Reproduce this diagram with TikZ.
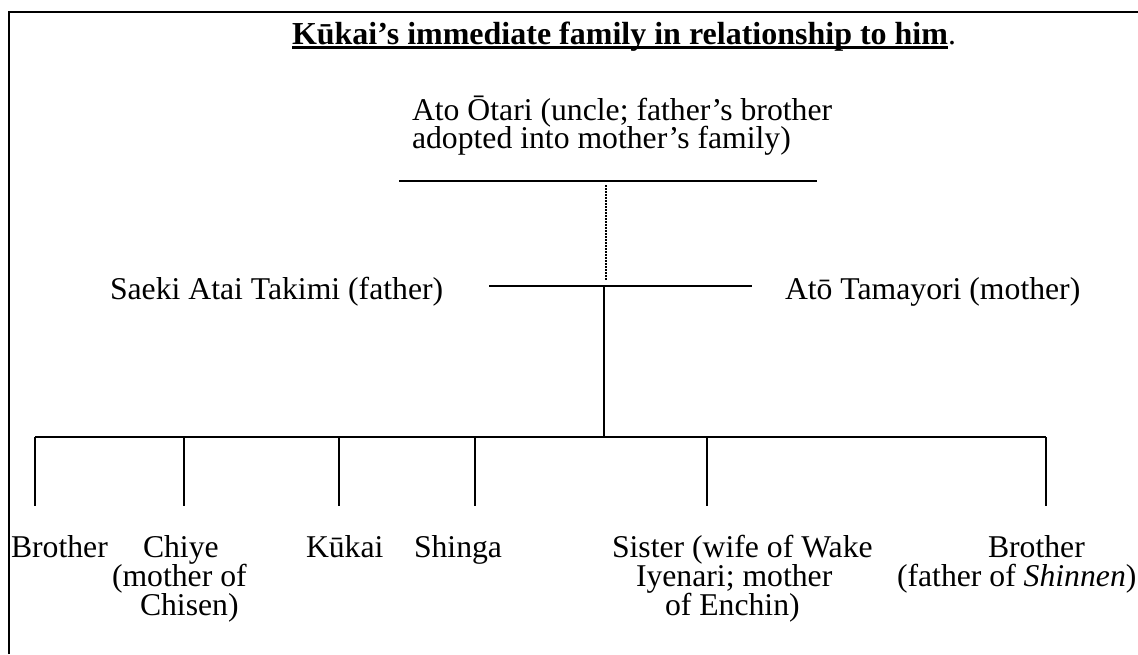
\documentclass[tikz,border=0pt]{standalone}
\usepackage{fontspec}
\setmainfont{Liberation Serif}
\usetikzlibrary{calc}
\newcommand\mylblfont{\fontsize{31.7}{29}\selectfont\lineskiplimit=-50pt\relax}
\newcommand\myuncfont{\fontsize{31.7}{28.3}\selectfont\lineskiplimit=-50pt\relax}
\begin{document}
\begin{tikzpicture}[x=1pt,y=-1pt,
  lbl/.style={inner sep=0pt, outer sep=0pt, anchor=base west, align=left,
    font=\mylblfont},
  ttl/.style={inner sep=0pt, outer sep=0pt, anchor=base west,
    font=\fontsize{32}{36}\selectfont\bfseries},
  tree/.style={line width=2pt},
  dots/.style={line width=2pt, dash pattern=on 1.5pt off 1.5pt}]
\useasboundingbox (0,0) rectangle (1138,654);
% frame
\draw[line width=2pt] (9,654) -- (9,12) -- (1138,12);
% title
\node[ttl] (title) at (292,44) {Kūkai’s immediate family in relationship to him};
\node[lbl] (period) at (title.base east) {.};
\draw[line width=3pt] ($(title.base west)+(0,3.5)$) -- ($(title.base east)+(0,3.5)$);
% people (multi-line nodes are placed by their last baseline)
\node[lbl, font=\myuncfont] (uncle) at (412,148.5)
  {Ato Ōtari (uncle; father’s brother\\adopted into mother’s family)};
\node[lbl] (father) at (110,299) {Saeki Atai Takimi (father)};
\node[lbl] (mother) at (785,299) {Atō Tamayori (mother)};
\node[lbl] (c1) at (11,557) {Brother};
\node[lbl] (c2) at (112,615) {\hspace*{31pt}Chiye\\(mother of\\\hspace*{28pt}Chisen)};
\node[lbl] (c3) at (306,557) {Kūkai};
\node[lbl] (c4) at (414,557) {Shinga};
\node[lbl] (c5) at (612,615) {Sister (wife of Wake\\\hspace*{24pt}Iyenari; mother\\\hspace*{53pt}of Enchin)};
\node[lbl] (c6) at (897,586) {\hspace*{91pt}Brother\\(father of \textit{Shinnen})};
% junction points
\coordinate (ul) at (399,181);
\coordinate (ur) at (817,181);
\coordinate (ud1) at (606,185);
\coordinate (ud2) at (606,281);
\coordinate (ml) at (489,286);
\coordinate (mr) at (752,286);
\coordinate (mc) at (604,286);
\coordinate (bc) at (604,437);
\coordinate (bl) at (35,437);
\coordinate (br) at (1046,437);
% tree lines
\draw[tree] (ul) -- (ur);
\draw[dots] (ud1) -- (ud2);
\draw[tree] (ml) -- (mr);
\draw[tree] (mc) -- (bc);
\draw[tree] (bl) -- (br);
\foreach \x/\n in {35/1,184/2,339/3,475/4,707/5,1046/6}{
  \coordinate (d\n) at (\x,506);
  \draw[tree] (\x,437) -- (d\n);
}
\end{tikzpicture}
\end{document}
